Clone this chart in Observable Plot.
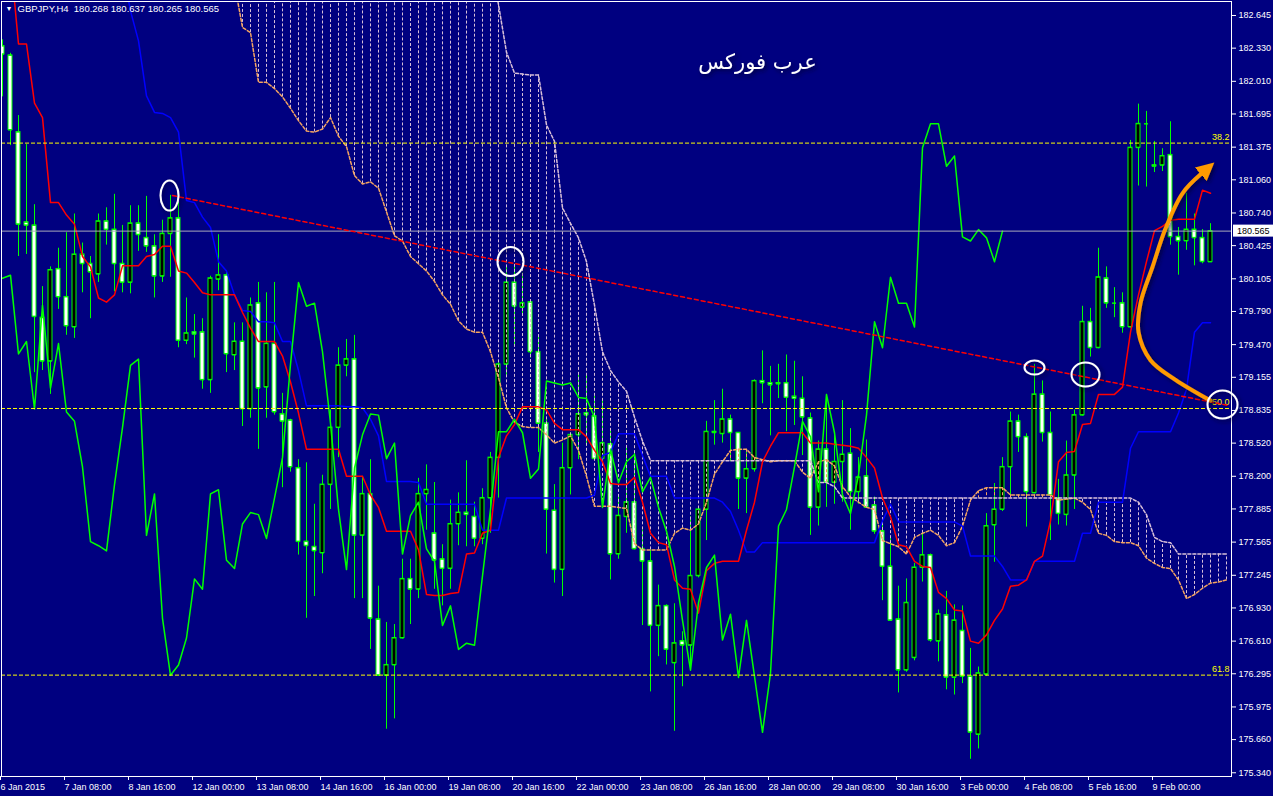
<!DOCTYPE html>
<html>
<head>
<meta charset="utf-8">
<script src="https://cdn.jsdelivr.net/npm/d3@7"></script>
<script src="https://cdn.jsdelivr.net/npm/@observablehq/plot@0.6"></script>
<style>
html,body{margin:0;padding:0;background:#000080;overflow:hidden;}
svg{display:block;}
</style>
</head>
<body>
<div id="chart"></div>
<script>
// ---------- data ----------
const symbol = "GBPJPY,H4";
const title = "عرب فوركس";

const open = [
182.35,182.26,181.52,180.65,180.62,179.73,179.31,180.20,179.93,179.64,
180.34,180.25,180.15,180.66,180.58,180.25,180.07,180.64,180.50,180.42,
180.13,180.54,180.69,179.51,179.59,179.59,179.13,180.10,180.14,179.37,
179.50,178.85,179.87,179.06,179.48,178.80,178.74,178.28,177.57,177.52,
177.46,178.12,178.67,179.27,179.33,177.63,178.03,176.82,176.28,176.38,
176.64,177.21,177.11,178.03,177.65,177.40,177.31,177.74,177.85,177.81,
177.60,177.99,178.38,179.28,180.07,179.83,179.88,179.40,178.71,177.87,
177.30,178.28,178.60,178.81,178.78,178.37,178.51,177.45,177.81,177.95,
177.50,177.38,176.76,176.95,176.40,176.61,176.57,177.24,177.88,178.62,
178.61,178.75,178.62,178.18,178.27,179.12,179.10,179.09,179.10,178.97,
178.95,178.76,177.90,178.46,178.14,178.34,178.42,178.05,178.20,177.92,
177.67,177.33,176.82,176.33,176.45,177.32,177.44,176.61,176.86,176.26,
176.71,176.27,175.71,176.29,177.73,177.88,178.29,178.73,178.58,178.04,
178.99,178.62,177.99,177.83,178.21,178.79,179.69,179.44,180.11,179.87,
179.87,179.64,181.37,181.60,181.20,181.20,181.30,180.51,180.47,180.58,
180.50,180.268];
const high = [
182.41,182.28,181.68,181.40,180.82,180.03,180.22,180.40,180.55,180.73,
180.45,180.32,180.73,180.79,180.92,180.62,180.81,180.81,180.90,180.53,
180.67,180.91,180.84,179.92,179.76,179.72,180.13,180.53,180.18,179.68,
179.68,179.92,180.07,179.97,180.07,179.00,178.75,178.36,178.33,177.93,
178.21,178.84,179.44,179.52,179.56,178.20,178.36,177.14,176.79,176.77,
177.40,177.40,178.18,178.31,178.14,177.54,177.97,178.04,178.35,177.95,
178.08,178.43,179.30,180.23,180.23,180.16,179.89,179.56,178.76,178.12,
178.52,178.62,179.18,179.19,178.97,178.95,178.64,178.02,178.49,178.43,
177.68,177.49,177.15,176.96,176.97,176.70,177.81,177.89,178.73,178.93,
179.04,178.79,178.62,178.43,179.13,179.41,179.26,179.28,179.37,179.31,
179.16,178.81,178.54,178.99,178.61,178.93,178.66,178.38,178.55,178.00,
177.75,177.61,177.14,177.21,177.36,177.67,177.45,176.91,177.09,176.96,
176.95,176.54,176.36,177.84,178.13,178.38,178.82,178.79,178.61,179.28,
179.12,178.82,178.17,178.54,178.84,179.84,179.82,180.40,180.22,180.02,
179.97,181.44,181.79,181.72,181.43,181.36,181.62,180.60,180.93,180.73,
180.58,180.637];
const low = [
181.86,181.39,180.32,180.34,179.20,179.22,178.99,179.81,179.56,179.53,
179.97,179.72,180.07,180.43,179.98,179.97,179.96,180.37,180.36,179.92,
180.07,180.12,179.44,179.47,179.34,179.04,179.00,179.99,179.20,179.22,
178.68,178.76,178.46,178.76,178.79,178.09,178.24,177.44,176.83,177.04,
177.26,177.88,178.38,179.16,177.02,177.02,176.53,176.27,175.76,175.86,
176.63,176.77,177.02,177.68,177.11,176.95,177.11,177.53,177.52,177.52,
177.54,177.65,177.99,179.16,179.46,179.75,179.34,178.43,177.45,177.17,
177.04,178.02,178.36,178.49,178.36,178.34,177.20,177.40,177.65,177.49,
176.76,176.12,176.46,176.38,175.74,176.17,176.33,177.22,177.58,178.50,
178.52,178.34,177.88,177.84,178.24,178.90,178.59,178.95,178.63,178.69,
178.40,177.63,177.72,177.90,177.93,177.95,177.68,177.93,177.90,177.64,
177.00,176.80,176.11,176.31,176.42,177.18,176.60,176.41,176.14,176.09,
176.20,175.47,175.57,176.27,177.37,177.86,178.00,178.43,177.71,178.03,
178.53,177.58,177.73,177.72,177.88,178.78,179.35,179.43,179.82,179.73,
179.58,179.63,181.00,180.99,181.13,181.14,180.43,180.14,180.38,180.23,
180.25,180.265];
const close = [
182.27,181.54,180.63,180.62,179.74,179.31,180.19,179.93,179.65,180.34,
180.25,180.17,180.66,180.58,180.25,180.07,180.64,180.53,180.42,180.13,
180.54,180.69,179.51,179.58,179.57,179.13,180.11,180.14,179.38,179.50,
178.85,179.85,179.05,179.48,178.82,178.73,178.29,177.57,177.53,177.48,
178.12,178.67,179.27,179.33,177.63,178.03,176.83,176.28,176.38,176.64,
177.21,177.11,178.03,178.07,177.39,177.31,177.74,177.85,177.83,177.60,
177.99,178.38,179.28,180.07,179.84,179.87,179.40,178.71,177.88,177.30,
178.28,178.60,178.80,178.79,178.37,178.52,177.45,177.82,177.95,177.50,
177.38,176.76,176.95,176.53,176.59,176.57,177.24,177.88,178.63,178.63,
178.75,178.62,178.18,178.27,179.12,179.10,179.08,179.10,178.96,178.95,
178.77,177.90,178.46,178.14,178.34,178.41,178.05,178.19,177.90,177.67,
177.33,176.81,176.33,176.98,177.32,177.44,176.62,176.87,176.26,176.81,
176.27,175.73,176.30,177.72,177.88,178.29,178.73,178.58,178.05,178.99,
178.62,178.02,177.84,178.21,178.79,179.69,179.44,180.12,179.87,179.87,
179.64,181.37,181.60,181.60,181.19,181.29,180.51,180.47,180.58,180.50,
180.27,180.565];

// Tenkan-sen (red), bars 1..151
const tenkanStart = 1;
const tenkan = [
183.20,182.37,182.37,181.80,181.66,180.84,180.84,180.72,180.63,180.32,
180.22,179.92,179.88,179.95,180.23,180.23,180.23,180.32,180.34,180.42,
180.42,180.18,180.16,180.07,179.97,179.95,179.95,179.95,179.95,179.78,
179.63,179.50,179.50,179.50,179.36,179.11,178.81,178.46,178.46,178.46,
178.46,178.46,178.20,178.20,178.20,178.02,177.90,177.67,177.67,177.67,
177.67,177.49,177.06,177.05,177.05,177.07,177.08,177.45,177.46,177.65,
177.68,178.38,178.59,178.70,178.87,178.87,178.87,178.84,178.71,178.65,
178.65,178.65,178.58,178.45,178.34,178.13,178.12,178.12,178.19,177.95,
177.65,177.56,177.54,177.20,177.12,177.11,176.88,177.29,177.36,177.38,
177.38,177.38,177.68,177.95,178.34,178.49,178.62,178.62,178.62,178.62,
178.52,178.52,178.52,178.51,178.50,178.49,178.47,178.38,178.28,177.99,
177.81,177.54,177.52,177.38,177.33,177.32,177.08,177.02,176.91,176.90,
176.61,176.59,176.67,176.81,176.92,177.14,177.15,177.20,177.38,177.43,
177.77,178.34,178.43,178.44,178.70,178.71,178.99,178.99,178.99,179.06,
179.59,179.95,180.27,180.57,180.61,180.67,180.68,180.68,180.68,180.96,
180.93];

// Kijun-sen (blue), bars 15..151
const kijunStart = 15;
const kijun = [
183.10,182.69,182.40,181.87,181.71,181.70,181.66,181.52,180.86,180.84,
180.70,180.60,180.27,180.18,179.95,179.80,179.79,179.69,179.69,179.68,
179.50,179.50,179.22,178.88,178.88,178.88,178.88,178.88,178.87,178.87,
178.86,178.75,178.59,178.15,178.15,178.15,178.15,178.14,177.93,177.93,
177.93,177.93,177.93,177.93,177.93,177.68,177.68,177.68,177.99,177.99,
177.99,177.99,177.99,177.99,177.99,177.99,177.99,177.99,177.99,178.02,
178.40,178.43,178.61,178.61,178.61,178.40,178.20,178.20,178.20,177.99,
177.99,177.99,177.99,177.99,177.99,177.95,177.86,177.68,177.47,177.47,
177.56,177.56,177.56,177.56,177.56,177.56,177.56,177.56,177.56,177.56,
177.56,177.56,177.56,177.56,177.56,177.77,177.93,177.76,177.76,177.76,
177.76,177.76,177.76,177.76,177.76,177.72,177.43,177.43,177.43,177.43,
177.33,177.20,177.20,177.20,177.38,177.38,177.38,177.38,177.38,177.38,
177.65,177.65,177.95,177.95,177.95,177.95,178.47,178.63,178.63,178.63,
178.63,178.63,178.81,179.04,179.59,179.68,179.68];

// Senkou span A / B (cloud), bars 29..153
const spanStart = 29;
const spanA = [
182.95,182.53,182.48,182.00,182.00,181.94,181.86,181.75,181.63,181.53,
181.52,181.55,181.66,181.48,181.38,181.10,181.02,181.04,180.98,180.75,
180.52,180.47,180.32,180.25,180.18,180.08,179.95,179.86,179.70,179.62,
179.59,179.59,179.40,179.15,178.86,178.72,178.68,178.67,178.67,178.60,
178.52,178.55,178.59,178.45,178.20,177.91,177.91,177.91,177.90,177.89,
177.55,177.49,177.49,177.49,177.49,177.65,177.70,177.68,177.74,177.95,
178.22,178.34,178.45,178.46,178.46,178.38,178.36,178.34,178.35,178.35,
178.35,178.24,178.18,178.34,178.36,178.30,178.10,178.00,177.95,177.90,
177.88,177.58,177.55,177.52,177.45,177.61,177.65,177.68,177.63,177.53,
177.56,177.72,177.97,178.06,178.09,178.09,178.09,178.02,178.02,178.02,
178.02,178.02,178.02,177.97,177.98,177.99,177.95,177.88,177.65,177.63,
177.57,177.56,177.56,177.53,177.41,177.36,177.32,177.31,177.20,177.02,
177.06,177.12,177.17,177.18,177.20];
const spanB = [
183.20,183.20,183.20,183.20,183.20,183.20,183.20,183.20,183.20,183.20,
183.20,183.20,183.20,183.20,183.20,183.20,183.20,183.20,183.20,183.20,
183.20,183.20,183.20,183.20,183.20,183.20,183.20,183.20,183.20,183.20,
183.20,183.20,183.20,182.75,182.29,182.09,182.08,182.07,182.07,181.59,
181.43,180.79,180.64,180.50,180.27,179.85,179.40,179.22,179.11,179.02,
178.77,178.54,178.35,178.35,178.35,178.35,178.35,178.35,178.35,178.35,
178.35,178.35,178.35,178.35,178.35,178.35,178.35,178.35,178.35,178.35,
178.35,178.35,178.35,178.14,178.14,178.10,177.99,177.99,177.99,177.99,
177.99,177.99,177.99,177.99,177.99,177.99,177.99,177.99,177.99,177.99,
177.99,177.99,177.99,177.99,177.99,177.99,177.99,177.99,177.99,177.99,
177.99,177.99,177.99,177.99,177.99,177.99,177.99,177.99,177.99,177.99,
177.99,177.99,177.99,177.95,177.83,177.61,177.57,177.56,177.45,177.45,
177.45,177.45,177.45,177.45,177.45];

// Chikou span = close shifted back by this many bars
const chikouShift = 26;

// Axis labels
const xTickStep = 8;
const xTickLabels = ["6 Jan 2015","7 Jan 08:00","8 Jan 16:00","12 Jan 00:00","13 Jan 08:00",
  "14 Jan 16:00","16 Jan 00:00","19 Jan 08:00","20 Jan 16:00","22 Jan 00:00","23 Jan 08:00",
  "26 Jan 16:00","28 Jan 00:00","29 Jan 08:00","30 Jan 16:00","3 Feb 00:00","4 Feb 08:00",
  "5 Feb 16:00","9 Feb 00:00"];
const yTickLabels = ["182.645","182.330","182.010","181.695","181.375","181.060","180.740",
  "180.425","180.105","179.790","179.470","179.155","178.835","178.520","178.200","177.885",
  "177.565","177.245","176.930","176.610","176.295","175.975","175.660","175.340"];

// Fibonacci levels
const fibLabels = ["38.2","50.0","61.8"];
const fibValues = [181.414,178.854,176.282];

// Hand-drawn annotations (bar index, price)
const trendIdx = [21.25,153.25];
const trendVal = [180.908,178.883];
const circleIdx = [20.875,63.5,129,135.375,152.5];
const circleVal = [180.908,180.272,179.249,179.182,178.892];
const arrowIdx = [151.0,146.63,143.5,142.0,142.25,143.75,145.375,147.5,149.875];
const arrowVal = [178.93,179.13,179.32,179.59,179.87,180.22,180.59,180.93,181.12];

// ---------- build tables ----------
const candles = close.map((c,i)=>({i,o:open[i],h:high[i],l:low[i],c}));
const tk = tenkan.map((v,k)=>({i:k+tenkanStart,v}));
const kj = kijun.map((v,k)=>({i:k+kijunStart,v}));
const sa = spanA.map((v,k)=>({i:k+spanStart,v}));
const sb = spanB.map((v,k)=>({i:k+spanStart,v}));
const cloud = spanA.map((a,k)=>({i:k+spanStart,a,b:spanB[k]}));
const chikou = close.slice(chikouShift).map((v,k)=>({i:k,v}));
const trend = trendIdx.map((i,k)=>({i,v:trendVal[k]}));
const arrow = arrowIdx.map((i,k)=>({i,v:arrowVal[k]}));
const last = close.length-1;
const header = `${symbol}  ${open[last].toFixed(3)} ${high[last].toFixed(3)} ${low[last].toFixed(3)} ${close[last].toFixed(3)}`;
const xTicks = xTickLabels.map((_,k)=>k*xTickStep);
const yTicks = yTickLabels.map(Number);

// ---------- styles ----------
const LIME="#00FF00", SANDY="#F4A460", THISTLE="#D8BFD8";
const halfBody = 0.25;

const plot = Plot.plot({
  width:1273, height:796,
  marginLeft:1, marginRight:42, marginTop:1, marginBottom:20,
  x:{type:"linear", domain:[-0.125,153.625]},
  y:{type:"linear", domain:[175.304,182.780]},
  style:{background:"#000080", color:"white", fontFamily:"'Liberation Sans', Arial, sans-serif", fontSize:"9px", overflow:"visible"},
  marks:[
    // candles
    Plot.ruleX(candles,{x:"i",y1:"l",y2:"h",stroke:LIME,clip:true}),
    Plot.rect(candles,{x1:d=>d.i-halfBody,x2:d=>d.i+halfBody,y1:"o",y2:"c",
      fill:d=>d.c<d.o?"#FFFFFF":"#000000",stroke:LIME,clip:true}),
    Plot.ruleY(candles,{y:"o",x1:d=>d.i-halfBody,x2:d=>d.i+halfBody,stroke:LIME,clip:true}),
    Plot.ruleY(candles,{y:"c",x1:d=>d.i-halfBody,x2:d=>d.i+halfBody,stroke:LIME,clip:true}),
    // cloud hatch
    Plot.ruleX(cloud,{x:"i",y1:"a",y2:"b",stroke:d=>d.a>=d.b?SANDY:THISTLE,strokeDasharray:"3,2",clip:true}),
    Plot.line(sa,{x:"i",y:"v",stroke:SANDY,strokeDasharray:"3,2",clip:true}),
    Plot.line(sb,{x:"i",y:"v",stroke:THISTLE,strokeDasharray:"3,2",clip:true}),
    // ichimoku lines
    Plot.line(kj,{x:"i",y:"v",stroke:"#0000FF",clip:true}),
    Plot.line(tk,{x:"i",y:"v",stroke:"#FF0000",clip:true}),
    Plot.line(chikou,{x:"i",y:"v",stroke:LIME,clip:true}),
    // current price line
    Plot.ruleY([close[last]],{stroke:"#A9A9B9"}),
    // fibonacci levels
    Plot.ruleY(fibValues,{stroke:"#FFFF00",strokeDasharray:"4,2"}),
    Plot.text(fibLabels,{y:(d,k)=>fibValues[k],text:d=>d,frameAnchor:"right",textAnchor:"end",dx:-2,dy:-6,fill:"#FFFF00",fontSize:9}),
    // trend line
    Plot.line(trend,{x:"i",y:"v",stroke:"#FF0000",strokeDasharray:"4,3",clip:true}),
    // orange arrow
    Plot.line(arrow,{x:"i",y:"v",curve:"catmull-rom",stroke:"#FF9A00",strokeWidth:4,strokeLinecap:"round"}),
    // axes
    Plot.axisY({anchor:"right",ticks:yTicks,tickFormat:d=>d.toFixed(3),tickSize:4,tickPadding:3,label:null,fontSize:9}),
    Plot.axisX({anchor:"bottom",ticks:xTicks,tickFormat:i=>xTickLabels[i/xTickStep],tickSize:4,tickPadding:3,textAnchor:"start",dx:-2,label:null,fontSize:9}),
    Plot.frame({stroke:"white"}),
    // header + title
    Plot.text(["▼"],{text:d=>d,frameAnchor:"top-left",dx:4,dy:5,fontSize:7,fill:"white"}),
    Plot.text([header],{text:d=>d,frameAnchor:"top-left",dx:16,dy:4,fontSize:9.5,fill:"white"}),
    Plot.text([title],{text:d=>d,frameAnchor:"top-left",dx:756,dy:61,textAnchor:"middle",lineAnchor:"middle",fontSize:21,fill:"white",fontFamily:"'DejaVu Sans', sans-serif"})
  ]
});
document.getElementById("chart").appendChild(plot);

// ---------- post-render decorations through Plot's scales ----------
const svg = d3.select(plot);
const sx = plot.scale("x"), sy = plot.scale("y");
const lin = s => s.apply ? (v=>s.apply(v)) : d3.scaleLinear(s.domain, s.range);
const fx = lin(sx), fy = lin(sy);
const defs = svg.insert("defs",":first-child");
const f = defs.append("filter").attr("id","shadow").attr("x","-50%").attr("y","-50%").attr("width","200%").attr("height","200%");
f.append("feDropShadow").attr("dx",2).attr("dy",2).attr("stdDeviation",2).attr("flood-color","#000020").attr("flood-opacity",0.7);
defs.append("marker").attr("id","ahead").attr("markerUnits","userSpaceOnUse")
  .attr("markerWidth",20).attr("markerHeight",20).attr("refX",1).attr("refY",9).attr("orient","auto")
  .append("path").attr("d","M0,0L18,9L0,18Z").attr("fill","#FF9A00");
const arrowPath = svg.selectAll('g[stroke-width="4"] path');
arrowPath.attr("marker-end","url(#ahead)").attr("filter","url(#shadow)");

// circles
const circleR = [[9,15],[13,14.5],[10,7],[14,12],[15,14]];
const cg = svg.append("g").attr("fill","none").attr("stroke","white").attr("stroke-width",2).attr("filter","url(#shadow)");
circleIdx.forEach((i,k)=>{
  cg.append("ellipse").attr("cx",fx(i)+0.5).attr("cy",fy(circleVal[k])+0.5)
    .attr("rx",circleR[k][0]).attr("ry",circleR[k][1]);
});

// current price box
const py = fy(close[last]);
const pg = svg.append("g").attr("text-anchor","start");
pg.append("rect").attr("x",1233).attr("y",py-6).attr("width",40).attr("height",12).attr("fill","white");
pg.append("text").attr("x",1237).attr("y",py+0.5).attr("dy","0.35em").attr("fill","black")
  .attr("text-anchor","start").attr("font-size",9).text(close[last].toFixed(3));

// title shadow
svg.selectAll('g[font-size="21"]').attr("filter","url(#shadow)");
</script>
</body>
</html>
